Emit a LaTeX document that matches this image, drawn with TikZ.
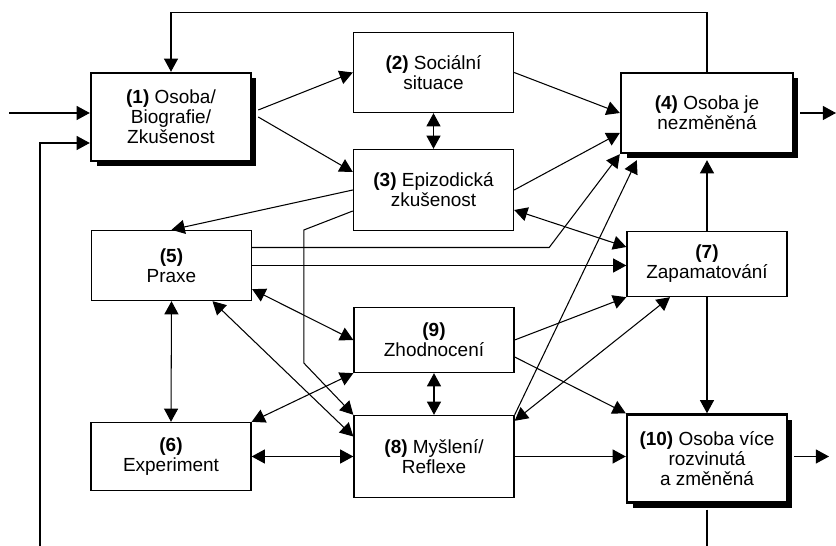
\documentclass[tikz,border=0pt]{standalone}
\usepackage{fontspec}
\setmainfont{Liberation Sans}
\usetikzlibrary{arrows.meta,calc,shadows}

\tikzset{
  box/.style={draw, line width=0.8pt, fill=white, align=center, minimum width=3.2cm, inner sep=2pt, font=\fontsize{10.8}{11.4}\selectfont},
  mainbox/.style={box, line width=1.4pt, drop shadow={shadow xshift=0.11cm, shadow yshift=-0.11cm, opacity=1, fill=black}},
  link/.style={line width=0.6pt}
}

\begin{document}
\begin{tikzpicture}[x=0.02cm, y=-0.02cm, >={Triangle[length=7.5pt,width=8pt]}]

    \useasboundingbox (0,0) rectangle (836,546);

    % Boxes (thick ones with shadow)
    \node[mainbox, minimum height=1.76cm] (osoba) at (171,117) {\textbf{(1)} Osoba/\\Biografie/\\Zkušenost};
    \node[box, minimum height=1.6cm] (situace) at (433.5,72.5) {\textbf{(2)} Sociální\\situace};
    \node[box, minimum height=1.62cm] (epizoda) at (433.5,190) {\textbf{(3)} Epizodická\\zkušenost};
    \node[mainbox, minimum width=3.44cm, minimum height=1.6cm] (nezmen) at (707,113) {\textbf{(4)} Osoba je\\nezměněná};
    \node[box, minimum height=1.4cm] (praxe) at (171.5,265.5) {\textbf{(5)}\\Praxe};
    \node[box, minimum height=1.36cm] (experiment) at (171,456.5) {\textbf{(6)}\\Experiment};
    \node[box, minimum height=1.3cm] (zapam) at (707,264) {\textbf{(7)}\\Zapamatování};
    \node[box, minimum height=1.3cm] (zhodn) at (434,340) {\textbf{(9)}\\Zhodnocení};
    \node[box, minimum height=1.64cm] (mysleni) at (434,456.5) {\textbf{(8)} Myšlení/\\Reflexe};
    \node[mainbox, minimum height=1.76cm] (rozvin) at (707,458.5) {\textbf{(10)} Osoba více\\rozvinutá\\a změněná};

    % Free ends
    \coordinate (in1) at (9,113);
    \coordinate (in2) at (40,546);
    \coordinate (out4) at (836,113);
    \coordinate (out10) at (829,456.5);
    \coordinate (down10) at (707,546);

    % Inputs and feedback
    \draw[link, ->] (in1) -- (in1 -| osoba.west);
    \draw[link, ->] (in2) |- ($(osoba.west)+(0,26)$);
    \draw[link, ->] (nezmen.north) -- ++(0,-59) -| (osoba.north);

    % From (1), (2), (3)
    \draw[link, ->] ($(osoba.east)+(6,-7)$) -- (situace.west);
    \draw[link, ->] ($(osoba.east)+(6,0)$) -- ($(epizoda.west)+(0,-18)$);
    \draw[link, <->] (situace.south) -- (epizoda.north);
    \draw[link, ->] (situace.east) -- (nezmen.west);
    \draw[link, ->] (epizoda.east) -- ($(nezmen.west)+(0,20)$);
    \draw[link, ->] (epizoda.west) -- (praxe.north);
    \draw[link, ->] ($(epizoda.west)+(0,21)$) -- ++(-49,19) -- ++(0,133) -- (mysleni.north west);
    \draw[link, <->] ($(epizoda.east)+(0,20)$) -- ($(zapam.west)+(0,-17)$);

    % From (5) and (6)
    \draw[link, ->] ($(praxe.east)+(0,-18)$) -- ++(297,0) -- (nezmen.south west);
    \draw[link, ->] (praxe.east) -- (praxe.east -| zapam.west);
    \draw[link, <->] ($(praxe.south east)+(0,-12)$) -- (zhodn.west);
    \draw[link, <->] ($(praxe.south)+(41,0)$) -- ($(mysleni.west)+(0,-20)$);
    \draw[link, <->] (praxe.south) -- (experiment.north);
    \draw[link, <->] (experiment.north east) -- (zhodn.south west);
    \draw[link, <->] (experiment.east) -- (mysleni.west);

    % From (9), (8), (7)
    \draw[link, <->] (zhodn.south) -- (mysleni.north);
    \draw[link, ->] (zhodn.east) -- (zapam.south west);
    \draw[link, ->] ($(zhodn.east)+(0,17)$) -- (rozvin.north west);
    \draw[link, ->] (mysleni.north east) -- ($(nezmen.south west)+(17,6)$);
    \draw[link, <->] ($(zapam.south)+(-37,0)$) -- ($(mysleni.north east)+(0,6)$);
    \draw[link, ->] (zapam.north) -- ($(nezmen.south)+(0,6)$);
    \draw[link, ->] (zapam.south) -- (rozvin.north);
    \draw[link, ->] (mysleni.east) -- (mysleni.east -| rozvin.west);

    % Outputs
    \draw[link, ->] ($(nezmen.east)+(6,0)$) -- (out4);
    \draw[link, ->] ($(rozvin.east)+(6,-2)$) -- (out10);
    \draw[link] ($(rozvin.south)+(0,6)$) -- (down10);

\end{tikzpicture}
\end{document}
